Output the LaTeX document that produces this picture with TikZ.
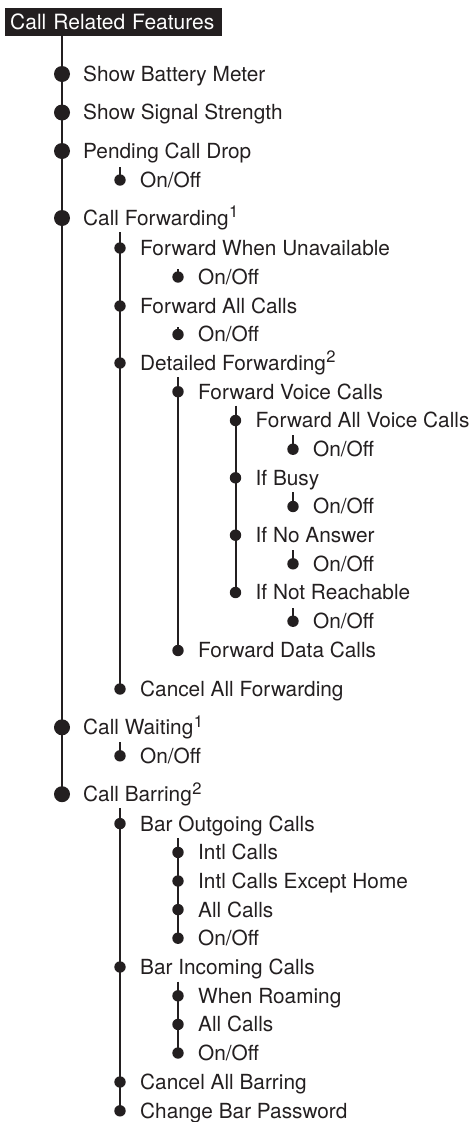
\documentclass[tikz,border=0pt]{standalone}
\usepackage{fontspec}
\setmainfont{TeX Gyre Heros}
\definecolor{ink}{HTML}{231F20}
\newcommand\supr[1]{\kern0.5pt\raisebox{7.5pt}{\fontsize{16.5}{17}\selectfont #1}}
\newcommand\itemfont{\fontsize{20.8}{24}\selectfont}
% name, dot style, dot x, y (cap centre), text x, text
\newcommand\entry[6]{%
  \node[#2] (d#1) at (#3,#4) {};
  \node[lbl] (t#1) at ({#5},{#4+7.4}) {#6};}
\begin{document}
\begin{tikzpicture}[x=1pt,y=-1pt]
\tikzset{
  lbl/.style={anchor=base west, inner sep=0pt, font=\itemfont, text=ink},
  bigdot/.style={circle, fill=ink, minimum size=16pt, inner sep=0pt},
  smalldot/.style={circle, fill=ink, minimum size=11.4pt, inner sep=0pt},
  trunk/.style={draw=ink, line width=2.5pt},
  branch/.style={draw=ink, line width=2pt},
  tick/.style={draw=ink, line width=1.6pt},
  hdr/.style={anchor=north west, fill=ink, text=white, inner ysep=0pt, inner xsep=5pt,
    text width=207pt, align=left,
    minimum height=28.4pt, font=\fontsize{21}{24}\selectfont}
}
\useasboundingbox (0,0) rectangle (474,1122);
\node[hdr] (hdr) at (5,7.3) {Call Related Features};

\entry{1}{bigdot}{62}{74}{83}{Show Battery Meter}
\entry{2}{bigdot}{62}{112.5}{83}{Show Signal Strength}
\entry{3}{bigdot}{62}{151}{83}{Pending Call Drop}
\entry{4}{smalldot}{120}{180}{140}{On/Off}
\entry{5}{bigdot}{62}{218}{83}{Call Forwarding\supr{1}}
\entry{6}{smalldot}{120}{248}{140}{Forward When Unavailable}
\entry{7}{smalldot}{178}{277}{198}{On/Off}
\entry{8}{smalldot}{120}{306}{140}{Forward All Calls}
\entry{9}{smalldot}{178}{334.5}{198}{On/Off}
\entry{10}{smalldot}{120}{363}{140}{Detailed Forwarding\supr{2}}
\entry{11}{smalldot}{178}{391.7}{198}{Forward Voice Calls}
\entry{12}{smalldot}{235.5}{420.5}{255.5}{Forward All Voice Calls}
\entry{13}{smalldot}{293}{449.2}{313}{On/Off}
\entry{14}{smalldot}{235.5}{477.8}{255.5}{If Busy}
\entry{15}{smalldot}{293}{506.5}{313}{On/Off}
\entry{16}{smalldot}{235.5}{535.2}{255.5}{If No Answer}
\entry{17}{smalldot}{293}{563.8}{313}{On/Off}
\entry{18}{smalldot}{235.5}{592.5}{255.5}{If Not Reachable}
\entry{19}{smalldot}{293}{621.2}{313}{On/Off}
\entry{20}{smalldot}{178}{650.5}{198}{Forward Data Calls}
\entry{21}{smalldot}{120}{689}{140}{Cancel All Forwarding}
\entry{22}{bigdot}{62}{727.3}{83}{Call Waiting\supr{1}}
\entry{23}{smalldot}{120}{755.8}{140}{On/Off}
\entry{24}{bigdot}{62}{794.2}{83}{Call Barring\supr{2}}
\entry{25}{smalldot}{120}{823.6}{140}{Bar Outgoing Calls}
\entry{26}{smalldot}{178}{852.4}{198}{Intl Calls}
\entry{27}{smalldot}{178}{881}{198}{Intl Calls Except Home}
\entry{28}{smalldot}{178}{909.6}{198}{All Calls}
\entry{29}{smalldot}{178}{938.2}{198}{On/Off}
\entry{30}{smalldot}{120}{967}{140}{Bar Incoming Calls}
\entry{31}{smalldot}{178}{995.8}{198}{When Roaming}
\entry{32}{smalldot}{178}{1024.4}{198}{All Calls}
\entry{33}{smalldot}{178}{1053}{198}{On/Off}
\entry{34}{smalldot}{120}{1082}{140}{Cancel All Barring}
\entry{35}{smalldot}{120}{1110.8}{140}{Change Bar Password}

% start points of the sub-lists
\coordinate (s5) at (120,232);
\coordinate (s10) at (178,377);
\coordinate (s11) at (235.5,405.5);
\coordinate (s24) at (120,808);
\coordinate (s25) at (178,838);
\coordinate (s30) at (178,981.5);

\draw[trunk] (hdr.south -| d1.center) -- (d24.center);
\draw[branch] (s5) -- (d21.center);
\draw[branch] (s10) -- (d20.center);
\draw[branch] (s11) -- (d18.center);
\draw[branch] (s24) -- (d35.center);
\draw[branch] (s25) -- (d29.center);
\draw[branch] (s30) -- (d33.center);

\draw[tick] (d4.center) -- ++(0,-13);
\draw[tick] (d7.center) -- ++(0,-8.5);
\draw[tick] (d9.center) -- ++(0,-8);
\draw[tick] (d13.center) -- ++(0,-14.5);
\draw[tick] (d15.center) -- ++(0,-14.5);
\draw[tick] (d17.center) -- ++(0,-13.5);
\draw[tick] (d19.center) -- ++(0,-13.5);
\draw[tick] (d23.center) -- ++(0,-13.5);
\end{tikzpicture}
\end{document}
